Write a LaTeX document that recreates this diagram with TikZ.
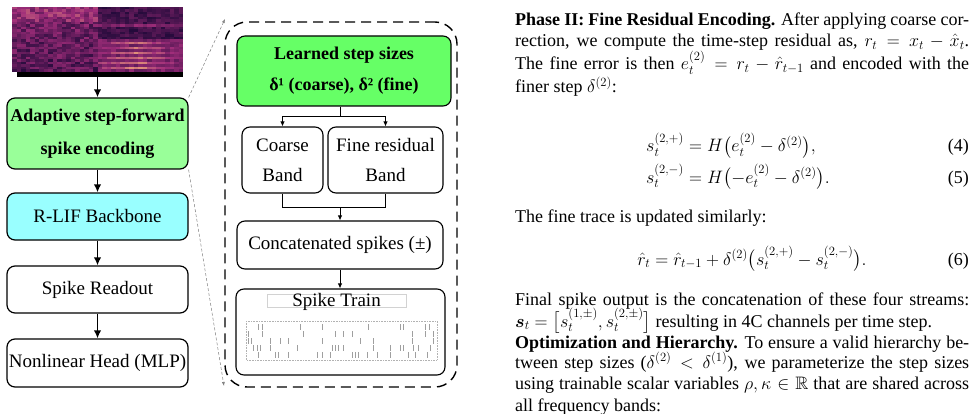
\RequirePackage{fix-cm}
\documentclass[tikz,border=0pt]{standalone}
\usepackage{amsmath,amssymb}
\usepackage[no-math]{fontspec}
\setmainfont{Liberation Serif}
\usepackage{tikz}
\usetikzlibrary{positioning,arrows.meta,calc}
\definecolor{encgreen}{RGB}{153,255,153}
\definecolor{stepgreen}{RGB}{102,255,102}
\definecolor{lifcyan}{RGB}{153,255,255}
\definecolor{magA}{RGB}{22,6,52}
\definecolor{magB}{RGB}{160,45,122}
\definecolor{magC}{RGB}{252,185,120}
\newcommand{\figfont}{\rmfamily\fontsize{19}{30}\selectfont}
\newcommand{\txtfont}{\rmfamily\fontsize{18}{21}\selectfont}
\newcommand{\colline}[1]{\makebox[454pt][s]{#1}}

\begin{document}
\begin{tikzpicture}[x=1pt,y=-1pt,font=\figfont,
  blk/.style={draw,line width=1.2pt,rounded corners=8pt,minimum width=181pt,inner sep=1pt,align=center,font=\figfont},
  sub/.style={draw,line width=1.1pt,rounded corners=8pt,inner sep=1pt,align=center,font=\figfont},
  flow/.style={-{Latex[length=8pt,width=7.5pt]},line width=1.8pt},
  innerflow/.style={-{Latex[length=5pt,width=4.5pt]},line width=0.9pt},
  zoomline/.style={-{Latex[length=4pt,width=3pt]},densely dashed,gray,line width=0.5pt},
  zoomframe/.style={draw,line width=1.4pt,dash pattern=on 10pt off 6pt,rounded corners=22pt},
  txt/.style={anchor=base west,inner sep=0pt,font=\txtfont},
  eqno/.style={anchor=base east,inner sep=0pt,font=\txtfont}]
\useasboundingbox (0,0) rectangle (976,414);
% spectrogram
\pgfmathsetseed{5}
\foreach \i in {0,...,37}{
  \foreach \j in {0,...,25}{
    \pgfmathsetmacro\v{\i<19 ? 36-0.5*\j+17*rand+(\j<6)*12 : (\j<13 ? 16+11*rand+(\j==7)*22 : (mod(\j,2)==0 ? 64+0.7*\j-4*abs(\i-27)+10*rand : 36+10*rand))}
    \pgfmathsetmacro\v{max(2,min(98,\v))}
    \ifdim\v pt<50pt
      \pgfmathtruncatemacro\pa{2*\v}
      \fill[magB!\pa!magA] (12+4.5*\i,7+2.5*\j) rectangle ++(4.6,2.6);
    \else
      \pgfmathtruncatemacro\pa{2*\v-100}
      \fill[magC!\pa!magB] (12+4.5*\i,7+2.5*\j) rectangle ++(4.6,2.6);
    \fi
  }
}
\fill[black] (17,72) rectangle (183,77);
\node[minimum width=171pt,minimum height=70pt,inner sep=0pt] (spec) at (97.5,42) {};
% pipeline
\node[blk,fill=encgreen,minimum height=71pt,font=\rmfamily\fontsize{18}{33}\selectfont\bfseries] (enc) at (97.5,133.5) {Adaptive step-forward\\spike encoding};
\node[blk,fill=lifcyan,minimum height=47pt] (lif) at (97.5,216.5) {R-LIF Backbone};
\node[blk,minimum height=47pt] (readout) at (97.5,289.5) {Spike Readout};
\node[blk,minimum height=48pt] (head) at (97.5,363) {Nonlinear Head (MLP)};
\draw[flow] (spec) -- (enc);
\draw[flow] (enc) -- (lif);
\draw[flow] (lif) -- (readout);
\draw[flow] (readout) -- (head);
% zoomed encoder
\node[zoomframe,minimum width=232pt,minimum height=365pt] (zoom) at (341,204.5) {};
\coordinate (ztop) at (225,19);
\coordinate (zbot) at (224,386);
\draw[zoomline] (enc.north east) -- (ztop);
\draw[zoomline] (enc.south east) -- (zbot);
\node[sub,fill=stepgreen,minimum width=214pt,minimum height=70pt,font=\rmfamily\fontsize{18}{31}\selectfont\bfseries] (steps) at (344,71) {Learned step sizes\\δ¹ (coarse), δ² (fine)};
\node[sub,minimum width=81pt,minimum height=66pt] (coarse) at (282.5,160) {Coarse\\Band};
\node[sub,minimum width=115pt,minimum height=66pt] (fine) at (385.5,160) {Fine residual\\Band};
\node[sub,minimum width=206pt,minimum height=48pt] (concat) at (340,245) {Concatenated spikes (±)};
\node[sub,minimum width=209pt,minimum height=86pt] (train) at (340.5,332) {};
\draw[innerflow] (steps.south -| concat.north) -- ++(0,10) -| (coarse.north);
\draw[innerflow] (steps.south -| concat.north) ++(0,10) -| (fine.north);
\draw[line width=0.9pt] (coarse.south) -- ++(0,14) -| (fine.south);
\coordinate (merge) at (340,207);
\draw[innerflow] (merge) -- (concat);
\draw[innerflow] (concat) -- (concat |- train.north);
\draw[gray!35,line width=0.5pt] (267,294) rectangle (406,307);
\node[inner sep=0pt,font=\figfont] (trainlab) at (336.5,302) {Spike Train};
\draw[gray!60,line width=0.6pt,densely dotted] (246,321) rectangle (437,360);
\foreach \y/\xs in {327/{258,262,300,322,368,400,403,425,429},
                    334/{248,262,303,335,343,352,412,425,433},
                    341/{248,251,270,280,288,322,360,373,412,433},
                    348/{253,257,260,270,297,332,335,338,343,373,390,400,403,413,418,430},
                    355/{258,275,278,288,317,322,330,352,355,358,367,377,390,408,415,427}}
  \foreach \x in \xs
    \draw[gray!75,line width=0.9pt] (\x,\y-2.6) -- (\x,\y+2.6);
% text column
\node[txt] (p1) at (515,26) {\colline{\textbf{Phase II: Fine Residual Encoding.} After applying coarse cor-}};
\node[txt] (p2) at (515,47) {\colline{rection, we compute the time-step residual as, $r_t = x_t - \hat{x}_t$.}};
\node[txt] (p3) at (515,70) {\colline{The fine error is then $e_t^{(2)} = r_t - \hat{r}_{t-1}$ and encoded with the}};
\node[txt] (p4) at (515,93) {finer step $\delta^{(2)}$:};
\node[txt,anchor=base east] (e4l) at (684,152) {$s_t^{(2,+)}$};
\node[txt] (e4r) at (684,152) {${}= H\bigl(e_t^{(2)} - \delta^{(2)}\bigr),$};
\node[eqno] (n4) at (969,152) {(4)};
\node[txt,anchor=base east] (e5l) at (684,183) {$s_t^{(2,-)}$};
\node[txt] (e5r) at (684,183) {${}= H\bigl(-e_t^{(2)} - \delta^{(2)}\bigr).$};
\node[eqno] (n5) at (969,183) {(5)};
\node[txt] (p5) at (515,222) {The fine trace is updated similarly:};
\node[txt,anchor=base] (e6) at (752,265) {$\hat{r}_t = \hat{r}_{t-1} + \delta^{(2)}\bigl(s_t^{(2,+)} - s_t^{(2,-)}\bigr).$};
\node[eqno] (n6) at (969,265) {(6)};
\node[txt] (p6) at (515,305) {\colline{Final spike output is the concatenation of these four streams:}};
\node[txt] (p7) at (515,327) {$\boldsymbol{s}_t = \bigl[s_t^{(1,\pm)}, s_t^{(2,\pm)}\bigr]$ resulting in 4C channels per time step.};
\node[txt] (p8) at (515,348) {\colline{\textbf{Optimization and Hierarchy.} To ensure a valid hierarchy be-}};
\node[txt] (p9) at (515,368) {\colline{tween step sizes ($\delta^{(2)} < \delta^{(1)}$), we parameterize the step sizes}};
\node[txt] (p10) at (515,389) {\colline{using trainable scalar variables $\rho, \kappa \in \mathbb{R}$ that are shared across}};
\node[txt] (p11) at (515,411) {all frequency bands:};
\end{tikzpicture}
\end{document}
